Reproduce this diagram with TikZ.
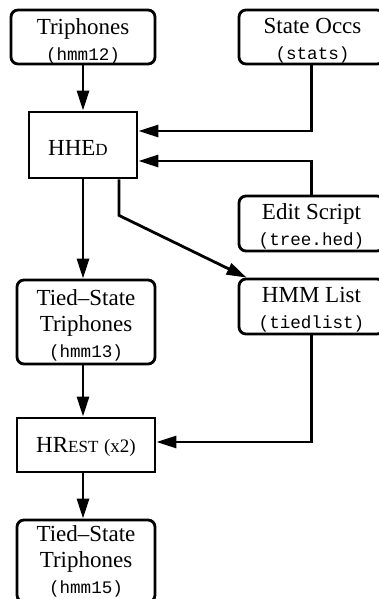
\documentclass[tikz,border=0pt]{standalone}
\usepackage{fontspec}
\setmainfont{Liberation Serif}
\setmonofont{Liberation Mono}
\usetikzlibrary{arrows.meta,calc}
\newcommand\mfile[1]{{\fontsize{17.6}{26}\ttfamily #1}}
\begin{document}
\begin{tikzpicture}[x=1pt,y=-1pt,line width=2.8pt,
  box/.style={draw,rounded corners=7pt,inner sep=0pt},
  proc/.style={draw,inner sep=0pt},
  txt/.style={align=center,inner sep=0pt,font=\fontsize{23}{26}\selectfont},
  arr/.style={-{Triangle[length=20pt,width=12pt]}}]
\useasboundingbox (0,0) rectangle (378,599);
\coordinate (ax) at (83,0);
\node[box,minimum width=144pt,minimum height=54pt] (tri) at (83,37) {};
\node[txt] (tri-t) at ($(tri.center)+(0,4)$) {Triphones\\\mfile{(hmm12)}};
\node[box,minimum width=145pt,minimum height=54pt] (stats) at (311.5,37) {};
\node[txt] (stats-t) at ($(stats.center)+(1,4)$) {State Occs\\\mfile{(stats)}};
\node[proc,minimum width=108pt,minimum height=66pt] (hhed) at (83,145) {};
\node[txt] (hhed-t) at ($(hhed.center)+(-5,3)$) {HHE{\fontsize{17}{20}\selectfont D}};
\node[box,minimum width=145pt,minimum height=55pt] (edit) at (311.5,223.5) {};
\node[txt] (edit-t) at ($(edit.center)+(0,3)$) {Edit Script\\\mfile{(tree.hed)}};
\node[box,minimum width=145pt,minimum height=55pt] (hmml) at (311.5,306.5) {};
\node[txt] (hmml-t) at ($(hmml.center)+(0,3)$) {HMM List\\\mfile{(tiedlist)}};
\node[box,minimum width=138pt,minimum height=84pt] (t13) at (86,322) {};
\node[txt] (t13-t) at ($(t13.center)+(0,3)$) {Tied\textendash State\\Triphones\\\mfile{(hmm13)}};
\node[proc,minimum width=138pt,minimum height=54pt] (hrest) at (86,445) {};
\node[txt] (hrest-t) at ($(hrest.center)+(0,2)$) {HR{\fontsize{17}{20}\selectfont EST} {\fontsize{19}{20}\selectfont (x2)}};
\node[box,minimum width=138pt,minimum height=82pt] (t15) at (86,561) {};
\node[txt] (t15-t) at ($(t15.center)+(0,0)$) {Tied\textendash State\\Triphones\\\mfile{(hmm15)}};
\draw[arr] (tri.south) -- (hhed.north);
\draw[arr] (stats.south) |- ($(hhed.east)+(0,-14)$);
\draw[arr] (edit.north) |- ($(hhed.east)+(0,16)$);
\draw[arr] (hhed.south) -- (hhed.south |- t13.north);
\draw[arr] ($(hhed.south)+(36,0)$) -- ++(0,36) -- ($(hmml.north west)+(9,0)$);
\draw[arr] (t13.south -| ax) -- (hrest.north -| ax);
\draw[arr] (hmml.south) |- ($(hrest.east)+(0,-3)$);
\draw[arr] (hrest.south -| ax) -- (t15.north -| ax);
\end{tikzpicture}
\end{document}
